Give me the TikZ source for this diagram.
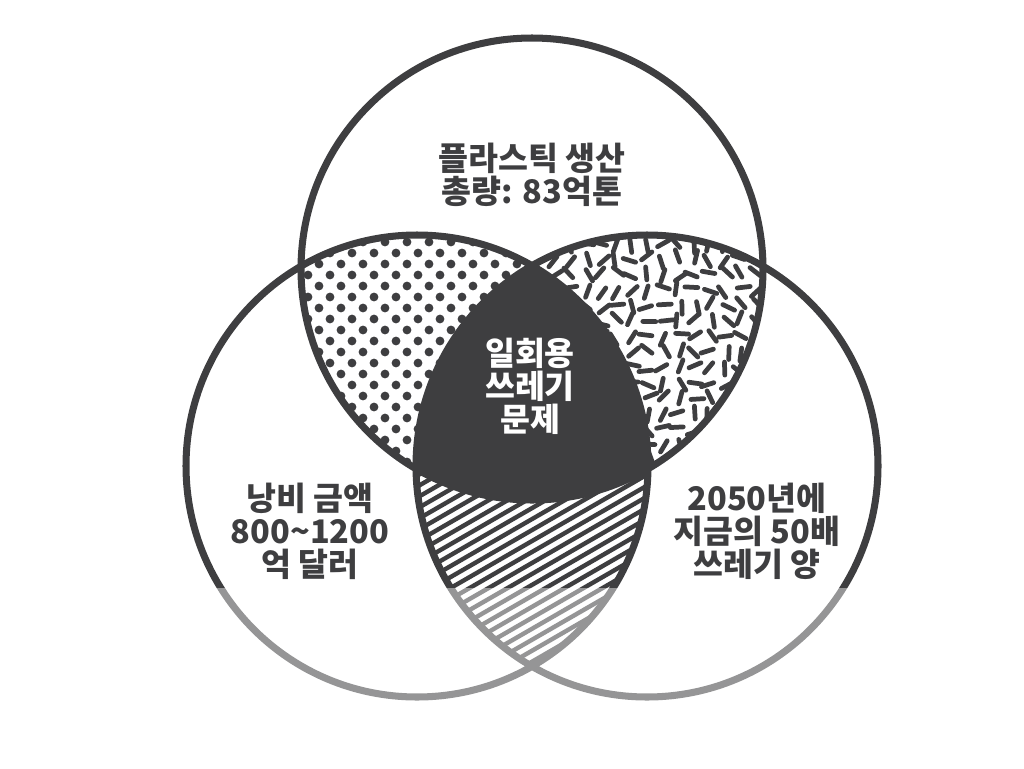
\documentclass[tikz,border=0pt]{standalone}
\usepackage{fontspec}
\newfontfamily\kr{Noto Sans CJK KR}
\definecolor{ink}{RGB}{62,62,64}

\begin{document}
\begin{tikzpicture}[x=0.02cm,y=-0.02cm,
    ring/.style={draw=ink,line width=4pt},
    dot/.style={fill=ink},
    grain/.style={draw=ink,line width=2.7pt,line cap=round},
    hatch/.style={draw=ink,line width=2.5pt},
    main text/.style={font=\kr\bfseries\fontsize{18.5}{18.8}\selectfont,text=ink,align=center},
    core text/.style={main text,text=white}]
  \useasboundingbox (0,0) rectangle (1024,768);
  \def\rad{231}
  \coordinate (T) at (532,269);
  \coordinate (L) at (417,466);
  \coordinate (R) at (647,466);
  % dots: top and left
  \begin{scope}
    \clip (T) circle (\rad);
    \clip (L) circle (\rad);
    \foreach \j in {0,...,25}
      \foreach \i in {0,...,17}
        \fill[dot] ({176+22*\i+11*mod(\j,2)},{231+11*\j}) circle (4.4);
  \end{scope}
  % grains: top and right
  \pgfmathsetseed{2050}
  \begin{scope}
    \clip (T) circle (\rad);
    \clip (R) circle (\rad);
    \foreach \j in {0,...,16}
      \foreach \i in {0,...,16} {
        \pgfmathsetmacro\gx{524+15.5*\i+3.5*rand}
        \pgfmathsetmacro\gy{228+15.5*\j+3.5*rand}
        \pgfmathsetmacro\ga{180*rnd}
        \draw[grain,shift={(\gx,\gy)},rotate=\ga] (-6.5,0) -- (6.5,0);
      }
  \end{scope}
  % hatch: left and right
  \begin{scope}
    \clip (L) circle (\rad);
    \clip (R) circle (\rad);
    \foreach \k in {0,...,42}
      \draw[hatch] ({-120+19*\k},720) -- ++(-30:600);
  \end{scope}
  % dark core
  \begin{scope}
    \clip (T) circle (\rad);
    \clip (L) circle (\rad);
    \fill[ink] (R) circle (\rad);
  \end{scope}
  \draw[ring] (T) circle (\rad) (L) circle (\rad) (R) circle (\rad);
  % faded bottom
  \fill[white,opacity=0.45] (0,588) rectangle (1024,768);
  \node[main text] (plastic) at (532,175) {플라스틱 생산\\총량: 83억톤};
  \node[core text] (single) at (530,386) {일회용\\쓰레기\\문제};
  \node[main text] (waste) at (310,531) {낭비 금액\\800\textasciitilde1200\\억 달러};
  \node[main text] (trash) at (757,531) {2050년에\\지금의 50배\\쓰레기 양};
\end{tikzpicture}
\end{document}
